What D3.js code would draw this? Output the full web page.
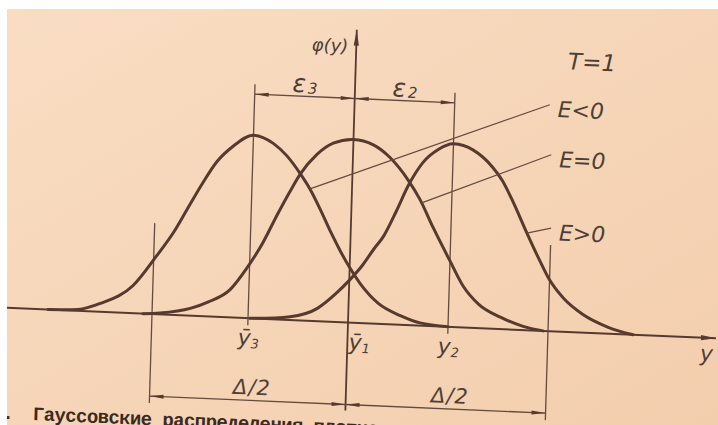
<!DOCTYPE html>
<html>
<head>
<meta charset="utf-8">
<script src="https://cdn.jsdelivr.net/npm/d3@7"></script>
<style>body{margin:0;background:#fff}</style>
</head>
<body>
<div id="chart"></div>
<script>
// bell curves, [y, phi(y)], peak = 1
var curveNeg = [[-3.0,0],[-2.7,0.008],[-2.48,0.046],[-2.16,0.15],[-1.93,0.32],[-1.77,0.45],[-1.64,0.58],[-1.5,0.72],[-1.36,0.845],[-1.2,0.935],[-1.0,1.0],[-0.8,0.96],[-0.66,0.895],[-0.52,0.80],[-0.42,0.72],[-0.31,0.61],[-0.2,0.49],[-0.1,0.39],[0.0,0.30],[0.11,0.215],[0.3,0.11],[0.52,0.05],[0.72,0.015],[1.0,0]]
var curveZero = [[-2.05,0],[-1.88,0.008],[-1.58,0.04],[-1.4,0.08],[-1.19,0.15],[-1.03,0.27],[-0.87,0.42],[-0.74,0.57],[-0.62,0.70],[-0.52,0.80],[-0.36,0.91],[-0.2,0.975],[0,1.0],[0.2,0.975],[0.37,0.91],[0.56,0.79],[0.68,0.69],[0.82,0.54],[1.0,0.36],[1.14,0.225],[1.3,0.13],[1.52,0.065],[1.75,0.02],[1.95,0]]
var curvePos = [[-0.98,0],[-0.58,0.018],[-0.31,0.07],[-0.12,0.16],[0.0,0.23],[0.12,0.31],[0.24,0.41],[0.33,0.48],[0.45,0.62],[0.56,0.76],[0.7,0.89],[0.85,0.965],[1.0,1.0],[1.2,0.97],[1.4,0.88],[1.5,0.81],[1.61,0.70],[1.76,0.53],[1.88,0.40],[2.0,0.28],[2.15,0.18],[2.34,0.10],[2.6,0.035],[2.85,0]]

var tickPos = [-1, 0, 1]
var tickMain = ['ȳ', 'ȳ', 'y']
var tickSub = ['3', '1', '2']
var epsBounds = [-1, 0, 1]
var epsSub = ['3', '2']
var deltaBounds = [-1.96, 0, 2.0]
var deltaText = 'Δ/2'
var leaderText = ['E<0', 'E=0', 'E>0']
var leaderFrom = [[-0.42,0.72],[0.70,0.67],[1.76,0.53]]
var leaderTo = [[1.95,1.236],[1.98,0.963],[2.0,0.563]]
var tempText = 'T=1'
var captionText = 'Гауссовские распределения плотности вероятности'

var W = 718, H = 425
var ink = '#573a2f', thin = '#644a3f', textInk = '#4e3e36'

var svg = d3.select('#chart').append('svg')
    .attr('width', W)
    .attr('height', H)
var defs = svg.append('defs')
var grad = defs.append('linearGradient').attr('id', 'paper')
    .attr('x1', 0).attr('y1', 0).attr('x2', 1).attr('y2', 1)
grad.append('stop').attr('offset', '0%').attr('stop-color', '#f9ddc3')
grad.append('stop').attr('offset', '100%').attr('stop-color', '#f3cead')
defs.append('clipPath').attr('id', 'pg').append('rect')
    .attr('x', 7).attr('y', 9).attr('width', W - 7).attr('height', H - 9)

svg.append('rect').attr('width', W).attr('height', H).attr('fill', '#fff')
svg.append('rect').attr('x', 7).attr('y', 9).attr('width', W - 7).attr('height', H - 9)
    .attr('fill', 'url(#paper)')

// the page is photographed a bit skewed
var g = svg.append('g').attr('clip-path', 'url(#pg)')
    .append('g').attr('transform', 'matrix(1,0.043,-0.03,1,348,322.5)')

var x = d3.scaleLinear().domain([0, 1]).range([0, 100])
var y = d3.scaleLinear().domain([0, 1]).range([0, -183])

function arrow (sel, tx, ty, dx, dy, len, half) {
    var bx = tx - dx * len, by = ty - dy * len
    var px = -dy * half, py = dx * half
    sel.append('path')
        .attr('d', 'M' + tx + ',' + ty + 'L' + (bx + px) + ',' + (by + py) + 'L' + (bx - px) + ',' + (by - py) + 'Z')
        .attr('fill', ink)
}

// x axis
g.append('line')
    .attr('x1', x(-3.8)).attr('x2', x(3.68))
    .attr('y1', y(0)).attr('y2', y(0))
    .attr('stroke', ink).attr('stroke-width', 2)
arrow(g, x(3.68), y(0), 1, 0, 15, 2.6)

// y axis
g.append('line')
    .attr('x1', x(0)).attr('x2', x(0))
    .attr('y1', y(0) + 88).attr('y2', y(1.60))
    .attr('stroke', ink).attr('stroke-width', 1.8)
arrow(g, x(0), y(1.60), 0, -1, 16, 2.6)

var epsLevel = y(1.224)
var deltaLevel = y(0) + 82

// mean lines ȳ3, ȳ2
g.selectAll('.mean')
    .data(tickPos.filter(function (d) { return d !== 0 }))
    .enter().append('line')
    .attr('x1', function (d) { return x(d) }).attr('x2', function (d) { return x(d) })
    .attr('y1', y(0) + 7).attr('y2', epsLevel - 10)
    .attr('stroke', thin).attr('stroke-width', 1.3)

// Δ/2 boundaries
g.selectAll('.bound')
    .data([deltaBounds[0], deltaBounds[2]])
    .enter().append('line')
    .attr('x1', function (d) { return x(d) }).attr('x2', function (d) { return x(d) })
    .attr('y1', deltaLevel + 7)
    .attr('y2', function (d, i) { return i === 0 ? y(0.497) : y(0.47) })
    .attr('stroke', thin).attr('stroke-width', 1.3)

// curves
var line = d3.line()
    .x(function (d) { return x(d[0]) })
    .y(function (d) { return y(d[1]) })
    .curve(d3.curveMonotoneX)
g.selectAll('.curve')
    .data([curveNeg, curveZero, curvePos])
    .enter().append('path')
    .attr('d', line)
    .attr('fill', 'none')
    .attr('stroke', ink)
    .attr('stroke-width', 3)
    .attr('stroke-linecap', 'round')

// dimension lines
function bracket (bounds, level) {
    for (var i = 0; i < bounds.length - 1; i++) {
        var a = x(bounds[i]), b = x(bounds[i + 1])
        g.append('line')
            .attr('x1', a).attr('x2', b).attr('y1', level).attr('y2', level)
            .attr('stroke', thin).attr('stroke-width', 1.3)
        arrow(g, a, level, -1, 0, 14, 2)
        arrow(g, b, level, 1, 0, 14, 2)
    }
}
bracket(epsBounds, epsLevel)
bracket(deltaBounds, deltaLevel)

var font = "'DejaVu Sans', sans-serif"

// ε labels
epsSub.forEach(function (s, i) {
    var t = g.append('text')
        .attr('x', x((epsBounds[i] + epsBounds[i + 1]) / 2))
        .attr('y', epsLevel - 4)
        .attr('text-anchor', 'middle')
        .attr('font-family', font).attr('font-style', 'italic')
        .attr('font-size', 25).attr('fill', textInk)
    t.append('tspan').text('ε')
    t.append('tspan').attr('font-size', 15).attr('dx', 2).attr('dy', 1).text(s)
})

// Δ/2 labels
for (var i = 0; i < deltaBounds.length - 1; i++) {
    g.append('text')
        .attr('x', x((deltaBounds[i] + deltaBounds[i + 1]) / 2) + 4)
        .attr('y', deltaLevel - 6)
        .attr('text-anchor', 'middle')
        .attr('font-family', font).attr('font-style', 'italic')
        .attr('font-size', 21).attr('letter-spacing', 1)
        .attr('fill', textInk)
        .text(deltaText)
}

// tick labels
tickPos.forEach(function (d, i) {
    var t = g.append('text')
        .attr('x', x(d) + (d === 0 ? 12 : 1))
        .attr('y', y(0) + 27)
        .attr('text-anchor', 'middle')
        .attr('font-family', font).attr('font-style', 'italic')
        .attr('font-size', 22).attr('fill', textInk)
    t.append('tspan').text(tickMain[i])
    t.append('tspan').attr('font-size', 13).attr('dy', 3).text(tickSub[i])
})

// axis names
g.append('text')
    .attr('x', x(3.59)).attr('y', y(0) + 23)
    .attr('text-anchor', 'middle')
    .attr('font-family', font).attr('font-style', 'italic')
    .attr('font-size', 22).attr('fill', textInk)
    .text('y')
g.append('text')
    .attr('x', x(0) - 8).attr('y', y(1.475))
    .attr('text-anchor', 'end')
    .attr('font-family', font).attr('font-style', 'italic')
    .attr('font-size', 18).attr('fill', textInk)
    .text('φ(y)')

// leaders to the E labels
g.selectAll('.leader')
    .data(leaderText)
    .enter().append('line')
    .attr('x1', function (d, i) { return x(leaderFrom[i][0]) })
    .attr('y1', function (d, i) { return y(leaderFrom[i][1]) })
    .attr('x2', function (d, i) { return x(leaderTo[i][0]) })
    .attr('y2', function (d, i) { return y(leaderTo[i][1]) })
    .attr('stroke', thin).attr('stroke-width', 1.2)
g.selectAll('.ltext')
    .data(leaderText)
    .enter().append('text')
    .attr('x', function (d, i) { return x(leaderTo[i][0]) + 8 })
    .attr('y', function (d, i) { return y(leaderTo[i][1]) + 12 })
    .attr('font-family', font).attr('font-style', 'italic')
    .attr('font-size', 22).attr('fill', textInk)
    .text(function (d) { return d })

g.append('text')
    .attr('x', x(2.12)).attr('y', y(1.434))
    .attr('font-family', font).attr('font-style', 'italic')
    .attr('font-size', 23).attr('fill', textInk)
    .text(tempText)

// figure caption, cut by the photo edge (typewriter face)
var capFont = "'Liberation Mono', 'DejaVu Sans Mono', monospace"
g.append('text')
    .attr('x', -331).attr('y', 111)
    .attr('text-anchor', 'end')
    .attr('font-family', capFont).attr('font-weight', 'bold')
    .attr('font-size', 19).attr('fill', '#3b2a22')
    .text('3.')
g.append('text')
    .attr('x', -312).attr('y', 111)
    .attr('font-family', capFont).attr('font-weight', 'bold')
    .attr('font-size', 19).attr('letter-spacing', -0.6)
    .attr('fill', '#3b2a22')
    .text(captionText)
</script>
</body>
</html>
